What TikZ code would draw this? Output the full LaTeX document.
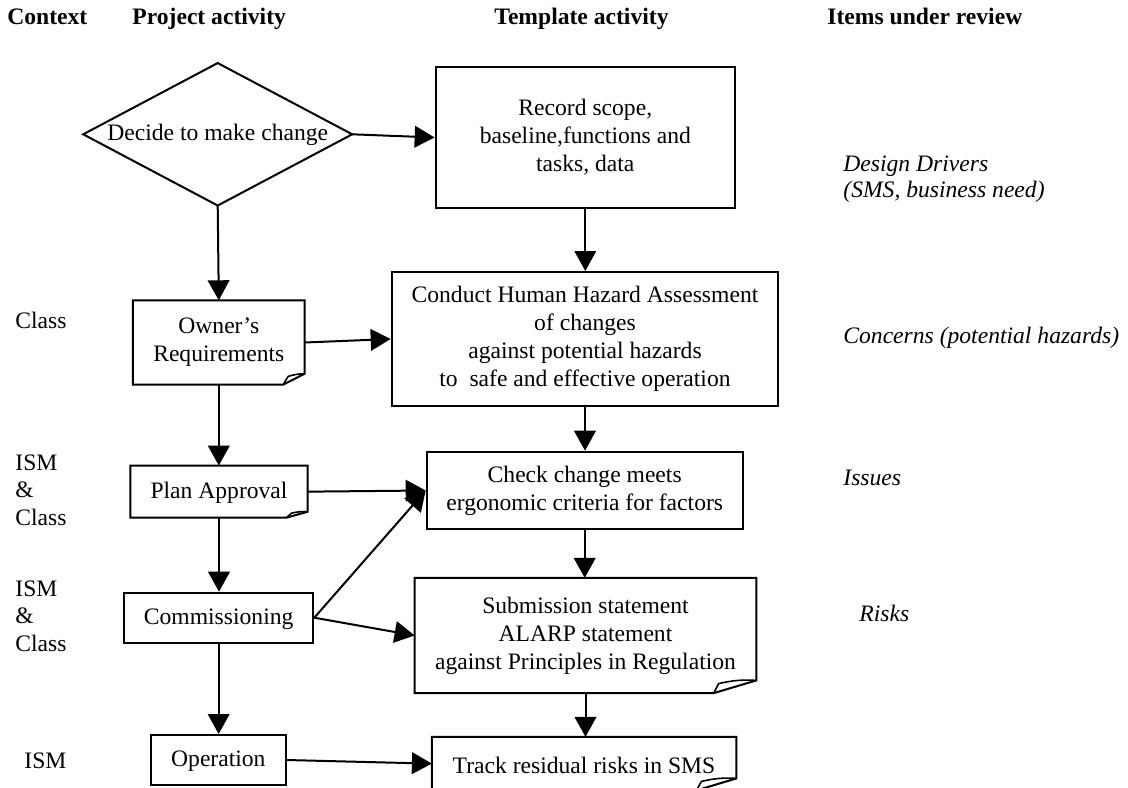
\documentclass[tikz,border=0pt]{standalone}
\usepackage{fontspec}
\setmainfont{Liberation Serif}
\usetikzlibrary{arrows.meta,calc}
\newcommand\foldbox[3]{%
  \draw[line width=1pt,line join=miter] (#1.south west) -- (#1.north west) -- (#1.north east)
    -- ($(#1.south east)+(0,-#3)$) -- ($(#1.south east)+(-#2,0)$) -- cycle;
  \draw[line width=0.8pt] ($(#1.south east)+(-#2,0)$) -- ($(#1.south east)+(-#2+5,-0.75*#3)$)
    to[bend left=8] ($(#1.south east)+(0,-#3)$);
}
\begin{document}
\begin{tikzpicture}[x=0.5pt,y=-0.5pt,
  txt/.style={font=\fontsize{11.8}{14}\selectfont, inner sep=0pt, align=center},
  box/.style={txt, draw, line width=1pt},
  plain/.style={txt, draw=none},
  oneline/.style={text height=0.66em, text depth=0pt},
  lbl/.style={font=\fontsize{11.8}{14}\selectfont, inner sep=0pt, anchor=base west},
  hdr/.style={lbl, font=\fontsize{11.8}{14}\selectfont\bfseries},
  ital/.style={lbl, font=\fontsize{11.8}{14}\selectfont\itshape},
  arr/.style={-{Triangle[length=10pt,width=10.8pt]}, line width=1pt}]
\useasboundingbox (0,0) rectangle (1128,787);
\clip (0,0) rectangle (1128,787);

% headers
\node[hdr] (h1) at (7,25) {Context};
\node[hdr] (h2) at (132,25) {Project activity};
\node[hdr] (h3) at (494,25) {Template activity};
\node[hdr] (h4) at (827,25) {Items under review};

% context labels
\node[lbl] (c1) at (15,328) {Class};
\node[lbl] (c2) at (15,470) {ISM};
\node[lbl] (c3) at (15,497) {\&};
\node[lbl] (c4) at (15,525) {Class};
\node[lbl] (c5) at (15,596) {ISM};
\node[lbl] (c6) at (15,623) {\&};
\node[lbl] (c7) at (15,651) {Class};
\node[lbl] (c8) at (24,768) {ISM};

% items under review
\node[ital] (r1) at (843,171) {Design Drivers};
\node[ital] (r2) at (843,197) {(SMS, business need)};
\node[ital] (r3) at (843,343) {Concerns (potential hazards)};
\node[ital] (r4) at (843,485) {Issues};
\node[ital] (r5) at (859,621) {Risks};

% project activity column
\node[plain, oneline, minimum width=134.1pt, minimum height=70.85pt] (dia) at (217.7,134.3) {Decide to make change};
\draw[line width=1pt] (dia.north) -- (dia.east) -- (dia.south) -- (dia.west) -- cycle;

\node[plain, minimum width=85.5pt, minimum height=41.8pt] (own) at (218.8,342.5) {Owner’s\\Requirements};
\foldbox{own}{21.6}{11}
\node[plain, oneline, minimum width=88.3pt, minimum height=25.65pt] (pln) at (219,491.65) {Plan Approval};
\foldbox{pln}{21.3}{6}
\node[box, oneline, minimum width=94.65pt, minimum height=25pt] (com) at (218.65,617.7) {Commissioning};
\node[box, oneline, minimum width=67.35pt, minimum height=25pt] (opr) at (218.35,760) {Operation};

% template activity column
\node[box, minimum width=149.65pt, minimum height=70.8pt] (rec) at (585.3,137.5) {Record scope,\\baseline,functions and\\tasks, data};
\node[box, minimum width=193.3pt, minimum height=67pt] (haz) at (585,339) {Conduct Human Hazard Assessment\\of changes\\against potential hazards\\to\ \ safe and effective operation};
\node[box, minimum width=158pt, minimum height=38.8pt] (chk) at (584.7,490.5) {Check change meets\\ergonomic criteria for factors};
\node[plain, minimum width=170.5pt, minimum height=57.2pt] (sub) at (585.5,635.5) {Submission statement\\ALARP statement\\against Principles in Regulation};
\foldbox{sub}{42.7}{12.7}
\node[plain, minimum width=151.85pt, minimum height=26.35pt, text depth=0pt] (trk) at (584.15,763.65) {};
\node[txt] (trkt) at (584,765) {Track residual risks in SMS};
\foldbox{trk}{40}{12}

% connectors
\draw[arr] (dia.south) -- (own.north);
\draw[arr] (dia.east) -- (rec.west);
\draw[arr] (rec.south) -- (rec.south |- haz.north);
\draw[arr] (own.east) -- (haz.west);
\draw[arr] (own.south) -- (own.south |- pln.north);
\draw[arr] (haz.south) -- (haz.south |- chk.north);
\draw[arr] (pln.east) -- (chk.west);
\draw[arr] (pln.south) -- (pln.south |- com.north);
\draw[arr] (com.east) -- (chk.west);
\draw[arr] (com.east) -- (sub.west);
\draw[arr] (chk.south) -- (chk.south |- sub.north);
\draw[arr] (com.south) -- (com.south |- opr.north);
\draw[arr] (sub.south) -- (sub.south |- trk.north);
\draw[arr] (opr.east) -- (trk.west);
\end{tikzpicture}
\end{document}
